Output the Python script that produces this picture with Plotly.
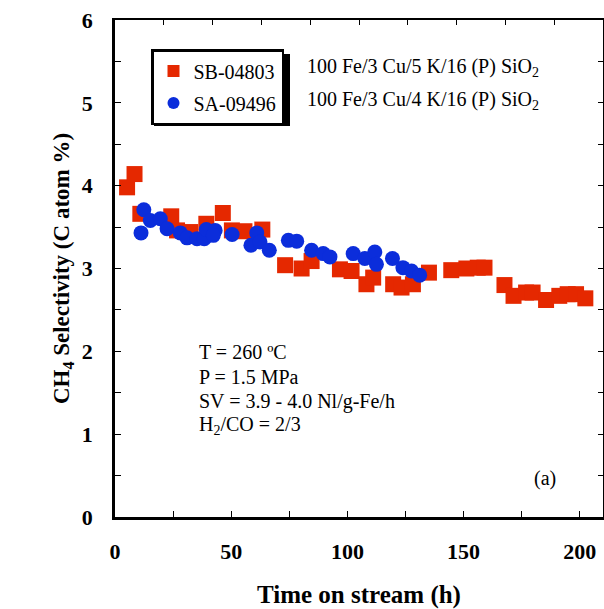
import plotly.graph_objects as go

# SB-04803 (red squares)
sb_time = [5.2, 8.4, 10.9, 24.2, 26.7, 32.4, 39.3, 46.4, 50.3, 55.7, 63.4, 73.2, 80.3, 84.6,
           96.8, 101.8, 108.2, 111.1, 119.7, 123.3, 128.2, 135.1, 144.7, 151.2, 156.1, 159.0,
           167.6, 171.5, 176.9, 179.7, 185.5, 191.2, 194.8, 198.4, 202.4]
sb_ch4 = [3.98, 4.14, 3.66, 3.63, 3.46, 3.44, 3.54, 3.67, 3.46, 3.45, 3.47, 3.04, 3.00, 3.09,
          2.99, 2.97, 2.81, 2.89, 2.81, 2.77, 2.81, 2.95, 2.98, 3.00, 3.01, 3.01,
          2.80, 2.67, 2.71, 2.71, 2.62, 2.67, 2.69, 2.69, 2.64]

# SA-09496 (blue circles)
sa_time = [11.2, 12.4, 15.2, 19.5, 22.4, 28.1, 31.0, 35.3, 38.4, 39.3, 43.1, 42.3, 50.4, 58.5,
           61.0, 62.4, 66.4, 74.6, 78.2, 84.6, 89.6, 92.5, 102.5, 107.5, 111.8, 112.5, 119.4,
           123.9, 127.6, 131.1]
sa_ch4 = [3.43, 3.71, 3.58, 3.60, 3.48, 3.43, 3.37, 3.36, 3.36, 3.47, 3.46, 3.40, 3.41, 3.28,
          3.43, 3.32, 3.22, 3.34, 3.33, 3.22, 3.18, 3.14, 3.18, 3.12, 3.20, 3.05, 3.12,
          3.01, 2.97, 2.92]

series_names = ["SB-04803", "SA-09496"]
catalysts = ["100 Fe/3 Cu/5 K/16 (P) SiO<sub>2</sub>", "100 Fe/3 Cu/4 K/16 (P) SiO<sub>2</sub>"]
conditions = ["T = 260 ºC", "P = 1.5 MPa", "SV = 3.9 - 4.0 Nl/g-Fe/h", "H<sub>2</sub>/CO = 2/3"]
panel_label = "(a)"

RED = "#E52800"
BLUE = "#0B2DDB"
FONT = "Liberation Serif"

W, H = 604, 609
ML, MR, MT, MB = 115, 1, 20, 92
PW = W - ML - MR
PH = H - MT - MB


def px(x):
    return (x - ML) / PW


def py(y):
    return (H - MB - y) / PH


fig = go.Figure()
fig.add_trace(go.Scatter(x=sb_time, y=sb_ch4, mode="markers", showlegend=False,
                         marker=dict(symbol="square", size=16, color=RED, line=dict(width=0))))
fig.add_trace(go.Scatter(x=sa_time, y=sa_ch4, mode="markers", showlegend=False,
                         marker=dict(symbol="circle", size=15, color=BLUE, line=dict(width=0))))
# legend entries
fig.add_trace(go.Scatter(x=[None], y=[None], mode="markers", name=series_names[0], legendgroup="a",
                         marker=dict(symbol="square", size=12, color=RED)))
fig.add_trace(go.Scatter(x=[None], y=[None], mode="markers", name=series_names[1], legendgroup="b",
                         marker=dict(symbol="circle", size=12, color=BLUE)))
# frame axes (top / right)
fig.add_trace(go.Scatter(x=[None], y=[None], xaxis="x2", yaxis="y2", showlegend=False,
                         hoverinfo="skip"))

fig.update_layout(
    width=W, height=H,
    margin=dict(l=ML, r=MR, t=MT, b=MB),
    paper_bgcolor="white", plot_bgcolor="white",
    font=dict(family=FONT, color="black"),
    xaxis=dict(range=[0, 210], dtick=50, tick0=0, showgrid=False, zeroline=False,
               showline=True, linecolor="black", linewidth=2.5,
               ticks="inside", ticklen=6, tickwidth=1.2, tickcolor="black",
               minor=dict(dtick=25, ticks="inside", ticklen=6, tickwidth=1.2, tickcolor="black"),
               tickfont=dict(family=FONT, size=22, weight="bold"),
               ticklabelstandoff=13,
               title=dict(text="Time on stream (h)", standoff=25,
                          font=dict(family=FONT, size=25, weight="bold"))),
    yaxis=dict(range=[0, 6], dtick=1, tick0=0, showgrid=False, zeroline=False,
               showline=True, linecolor="black", linewidth=2.5,
               ticks="inside", ticklen=6, tickwidth=1.2, tickcolor="black",
               minor=dict(dtick=0.5, ticks="inside", ticklen=6, tickwidth=1.2, tickcolor="black"),
               tickfont=dict(family=FONT, size=22, weight="bold"),
               ticklabelstandoff=15,
               title=dict(text="CH<sub>4</sub> Selectivity (C atom %)", standoff=6,
                          font=dict(family=FONT, size=23, weight="bold"))),
    xaxis2=dict(overlaying="x", side="top", anchor="y", range=[0, 10], tickvals=list(range(1, 10)),
                showticklabels=False, showgrid=False, zeroline=False,
                showline=True, linecolor="black", linewidth=1.5,
                ticks="inside", ticklen=5, tickwidth=1.2, tickcolor="black"),
    yaxis2=dict(overlaying="y", side="right", anchor="x", range=[0, 6], dtick=0.5,
                showticklabels=False, showgrid=False, zeroline=False,
                showline=True, linecolor="black", linewidth=1.5,
                ticks="inside", ticklen=5, tickwidth=1.2, tickcolor="black"),
    legend=dict(x=px(151), y=py(49), xanchor="left", yanchor="top",
                bgcolor="white", bordercolor="black", borderwidth=2.5,
                font=dict(family=FONT, size=20), tracegroupgap=3, traceorder="grouped"),
    showlegend=True,
)

# legend shadow
fig.add_shape(type="rect", xref="paper", yref="paper", layer="below",
              x0=px(154), x1=px(290), y0=py(126), y1=py(54),
              fillcolor="black", line=dict(width=0))

for i, t in enumerate(catalysts):
    fig.add_annotation(x=px(305), y=py(68 + 33 * i), xref="paper", yref="paper",
                       text=t, showarrow=False, xanchor="left", yanchor="middle",
                       font=dict(family=FONT, size=20))

for i, t in enumerate(conditions):
    fig.add_annotation(x=px(197), y=py(352 + 24.6 * i), xref="paper", yref="paper",
                       text=t, showarrow=False, xanchor="left", yanchor="middle",
                       font=dict(family=FONT, size=20))

fig.add_annotation(x=px(545), y=py(478), xref="paper", yref="paper",
                   text=panel_label, showarrow=False, xanchor="center", yanchor="middle",
                   font=dict(family=FONT, size=20))

fig.write_html("out.html")
